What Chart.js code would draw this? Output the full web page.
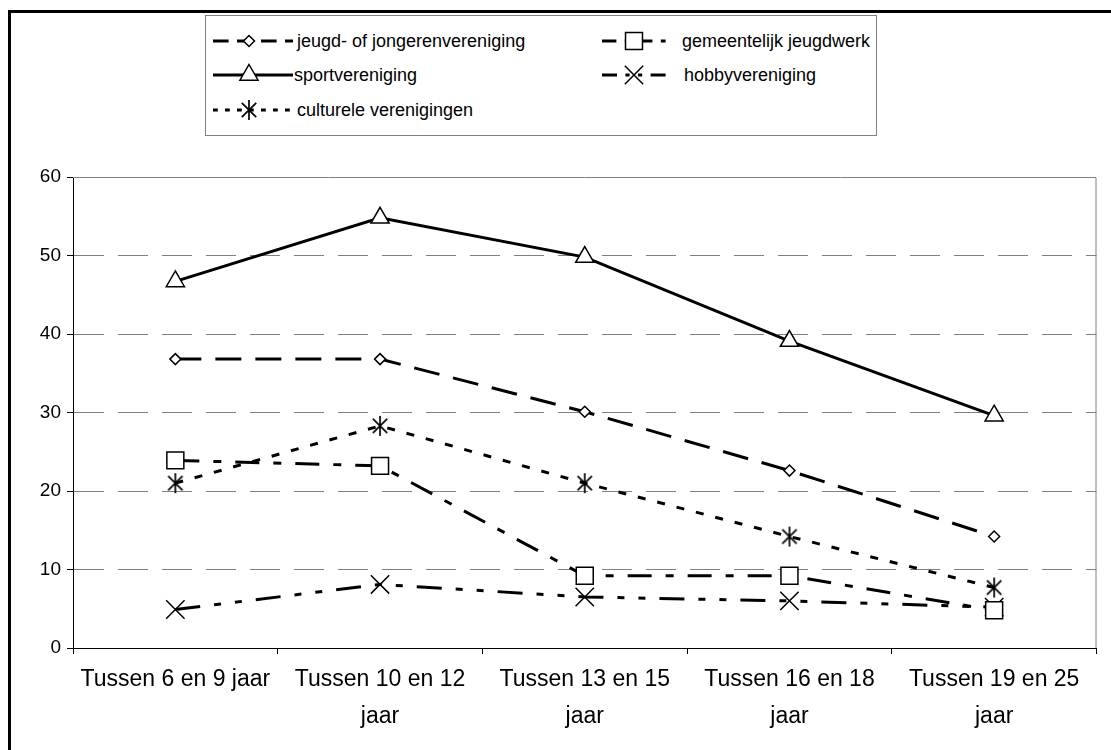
<!DOCTYPE html>
<html lang="nl">
<head>
  <meta charset="UTF-8" />
  <title>Verenigingen naar leeftijd</title>
  <script src="https://cdn.jsdelivr.net/npm/chart.js"></script>
  <style>
    html, body {
      margin: 0;
      padding: 0;
      background: #fff;
      overflow: hidden;
    }

    body {
      width: 1111px;
      height: 750px;
      position: relative;
      font-family: 'Liberation Sans', Arial, sans-serif;
    }

    .frame {
      position: absolute;
      left: 8px;
      top: 10px;
      width: 1200px;
      height: 800px;
      border-top: 3px solid #000;
      border-left: 3px solid #000;
      box-sizing: border-box;
    }

    .chart-box {
      position: absolute;
      left: 0;
      top: 0;
      width: 1111px;
      height: 750px;
    }

    .legend {
      position: absolute;
      left: 205px;
      top: 15px;
      width: 672px;
      height: 121px;
      border: 1px solid #808080;
      background: #fff;
      box-sizing: border-box;
    }

    .legend-item {
      position: absolute;
      display: flex;
      align-items: center;
      font-size: 18px;
      color: #000;
      white-space: nowrap;
    }
  </style>
</head>
<body>
  <div class="frame"></div>
  <div class="chart-box"><canvas id="ageChart"></canvas></div>
  <div class="legend" id="legend"></div>

  <script>
    // data (percentages)
    const categories = [
      'Tussen 6 en 9 jaar',
      ['Tussen 10 en 12', 'jaar'],
      ['Tussen 13 en 15', 'jaar'],
      ['Tussen 16 en 18', 'jaar'],
      ['Tussen 19 en 25', 'jaar']
    ];
    const seriesNames = [
      'jeugd- of jongerenvereniging',
      'gemeentelijk jeugdwerk',
      'sportvereniging',
      'hobbyvereniging',
      'culturele verenigingen'
    ];
    const jeugdVereniging = [36.8, 36.8, 30.1, 22.6, 14.2];
    const gemeentelijkJeugdwerk = [23.9, 23.2, 9.2, 9.2, 4.8];
    const sportVereniging = [46.7, 54.8, 49.8, 39.1, 29.6];
    const hobbyVereniging = [4.9, 8.1, 6.5, 6.0, 5.2];
    const cultureleVerenigingen = [21.0, 28.3, 21.0, 14.2, 7.7];
    const yTicks = [0, 10, 20, 30, 40, 50, 60];

    // asterisk marker (vertical bar + X)
    function makeAsterisk(size) {
      const c = document.createElement('canvas');
      c.width = size; c.height = size;
      const g = c.getContext('2d');
      const m = size / 2, r = size / 2 - 1, d = r * 0.72;
      g.strokeStyle = '#000';
      g.lineWidth = 1.7;
      g.beginPath();
      g.moveTo(m, m - r); g.lineTo(m, m + r);
      g.moveTo(m - d, m - d); g.lineTo(m + d, m + d);
      g.moveTo(m + d, m - d); g.lineTo(m - d, m + d);
      g.stroke();
      return c;
    }
    const asterisk = makeAsterisk(22);

    const styles = [
      { dash: [26, 14], point: 'rectRot', radius: 5.5 },
      { dash: [24, 14, 8, 14], point: 'rect', radius: 12 },
      { dash: [], point: 'triangle', radius: 10.5 },
      { dash: [25, 14, 7, 14, 7, 14], point: 'crossRot', radius: 13 },
      { dash: [8, 12], point: asterisk, radius: 11 }
    ];
    const values = [jeugdVereniging, gemeentelijkJeugdwerk, sportVereniging, hobbyVereniging, cultureleVerenigingen];

    const datasets = seriesNames.map((name, i) => ({
      label: name,
      data: values[i],
      borderColor: '#000',
      borderWidth: 3,
      borderDash: styles[i].dash,
      tension: 0,
      fill: false,
      pointStyle: styles[i].point,
      pointRadius: styles[i].radius,
      pointHoverRadius: styles[i].radius,
      pointBackgroundColor: '#fff',
      pointBorderColor: '#000',
      pointBorderWidth: 1.5
    }));

    const plotFrame = {
      id: 'plotFrame',
      beforeDatasetsDraw(chart) {
        const { ctx, chartArea: a } = chart;
        ctx.save();
        ctx.strokeStyle = '#808080';
        ctx.lineWidth = 1;
        ctx.beginPath();
        ctx.moveTo(a.left, a.top + 0.5);
        ctx.lineTo(a.right - 0.5, a.top + 0.5);
        ctx.lineTo(a.right - 0.5, a.bottom);
        ctx.stroke();
        ctx.restore();
      }
    };

    Chart.defaults.font.family = "'Liberation Sans', Arial, sans-serif";
    Chart.defaults.color = '#000';

    new Chart(document.getElementById('ageChart'), {
      type: 'line',
      data: { labels: categories, datasets: datasets },
      options: {
        responsive: true,
        maintainAspectRatio: false,
        animation: false,
        layout: { padding: { top: 177, right: 4, left: 0, bottom: 0 } },
        plugins: { legend: { display: false }, tooltip: { enabled: false } },
        scales: {
          x: {
            offset: true,
            grid: { offset: true, drawOnChartArea: false, tickLength: 6, tickColor: '#000' },
            border: { color: '#000', width: 1 },
            ticks: { font: { size: 23, lineHeight: 1.57 }, padding: 8, maxRotation: 0, autoSkip: false },
            afterFit(scale) { scale.height = 102; }
          },
          y: {
            min: yTicks[0],
            max: yTicks[yTicks.length - 1],
            afterBuildTicks(scale) { scale.ticks = yTicks.map(v => ({ value: v })); },
            grid: {
              color: ctx => (ctx.tick && (ctx.tick.value === 0 || ctx.tick.value === 60)) ? 'rgba(0,0,0,0)' : '#808080',
              lineWidth: 1,
              tickLength: 6,
              tickColor: '#000'
            },
            border: { color: '#000', width: 1, dash: [30, 14] },
            ticks: { font: { size: 19 }, padding: 6 },
            afterFit(scale) { scale.width = 73; }
          }
        }
      },
      plugins: [plotFrame]
    });

    // legend with line samples
    function drawMarker(g, style, x, y) {
      g.save();
      g.setLineDash([]);
      g.lineWidth = 1.5;
      g.strokeStyle = '#000';
      g.fillStyle = '#fff';
      const r = style.radius;
      if (style.point === 'rectRot') {
        g.beginPath();
        g.moveTo(x, y - r); g.lineTo(x + r, y); g.lineTo(x, y + r); g.lineTo(x - r, y); g.closePath();
        g.fill(); g.stroke();
      } else if (style.point === 'rect') {
        const s = r * Math.SQRT1_2;
        g.fillRect(x - s, y - s, 2 * s, 2 * s);
        g.strokeRect(x - s, y - s, 2 * s, 2 * s);
      } else if (style.point === 'triangle') {
        g.beginPath();
        g.moveTo(x, y - r);
        g.lineTo(x + r * 0.866, y + r * 0.5);
        g.lineTo(x - r * 0.866, y + r * 0.5);
        g.closePath();
        g.fill(); g.stroke();
      } else if (style.point === 'crossRot') {
        const d = r * Math.SQRT1_2;
        g.beginPath();
        g.moveTo(x - d, y - d); g.lineTo(x + d, y + d);
        g.moveTo(x + d, y - d); g.lineTo(x - d, y + d);
        g.stroke();
      } else {
        g.drawImage(style.point, x - style.point.width / 2, y - style.point.height / 2);
      }
      g.restore();
    }

    const legendPos = [
      { left: 7, top: 25, w: 80, gap: 4 },
      { left: 396, top: 25, w: 72, gap: 8 },
      { left: 7, top: 59, w: 80, gap: 1 },
      { left: 396, top: 59, w: 72, gap: 10 },
      { left: 7, top: 94, w: 80, gap: 4 }
    ];
    const legend = document.getElementById('legend');
    seriesNames.forEach((name, i) => {
      const p = legendPos[i];
      const item = document.createElement('div');
      item.className = 'legend-item';
      item.style.left = p.left + 'px';
      item.style.top = (p.top - 12) + 'px';
      item.style.height = '24px';
      const c = document.createElement('canvas');
      c.width = p.w; c.height = 24;
      c.style.marginRight = p.gap + 'px';
      const g = c.getContext('2d');
      g.strokeStyle = '#000';
      g.lineWidth = 3;
      g.setLineDash(styles[i].dash.map(v => v * 0.6));
      g.beginPath();
      g.moveTo(0, 12); g.lineTo(p.w, 12);
      g.stroke();
      drawMarker(g, styles[i], p.w / 2 - 4, 12);
      item.appendChild(c);
      const t = document.createElement('span');
      t.textContent = name;
      item.appendChild(t);
      legend.appendChild(item);
    });
  </script>
</body>
</html>
